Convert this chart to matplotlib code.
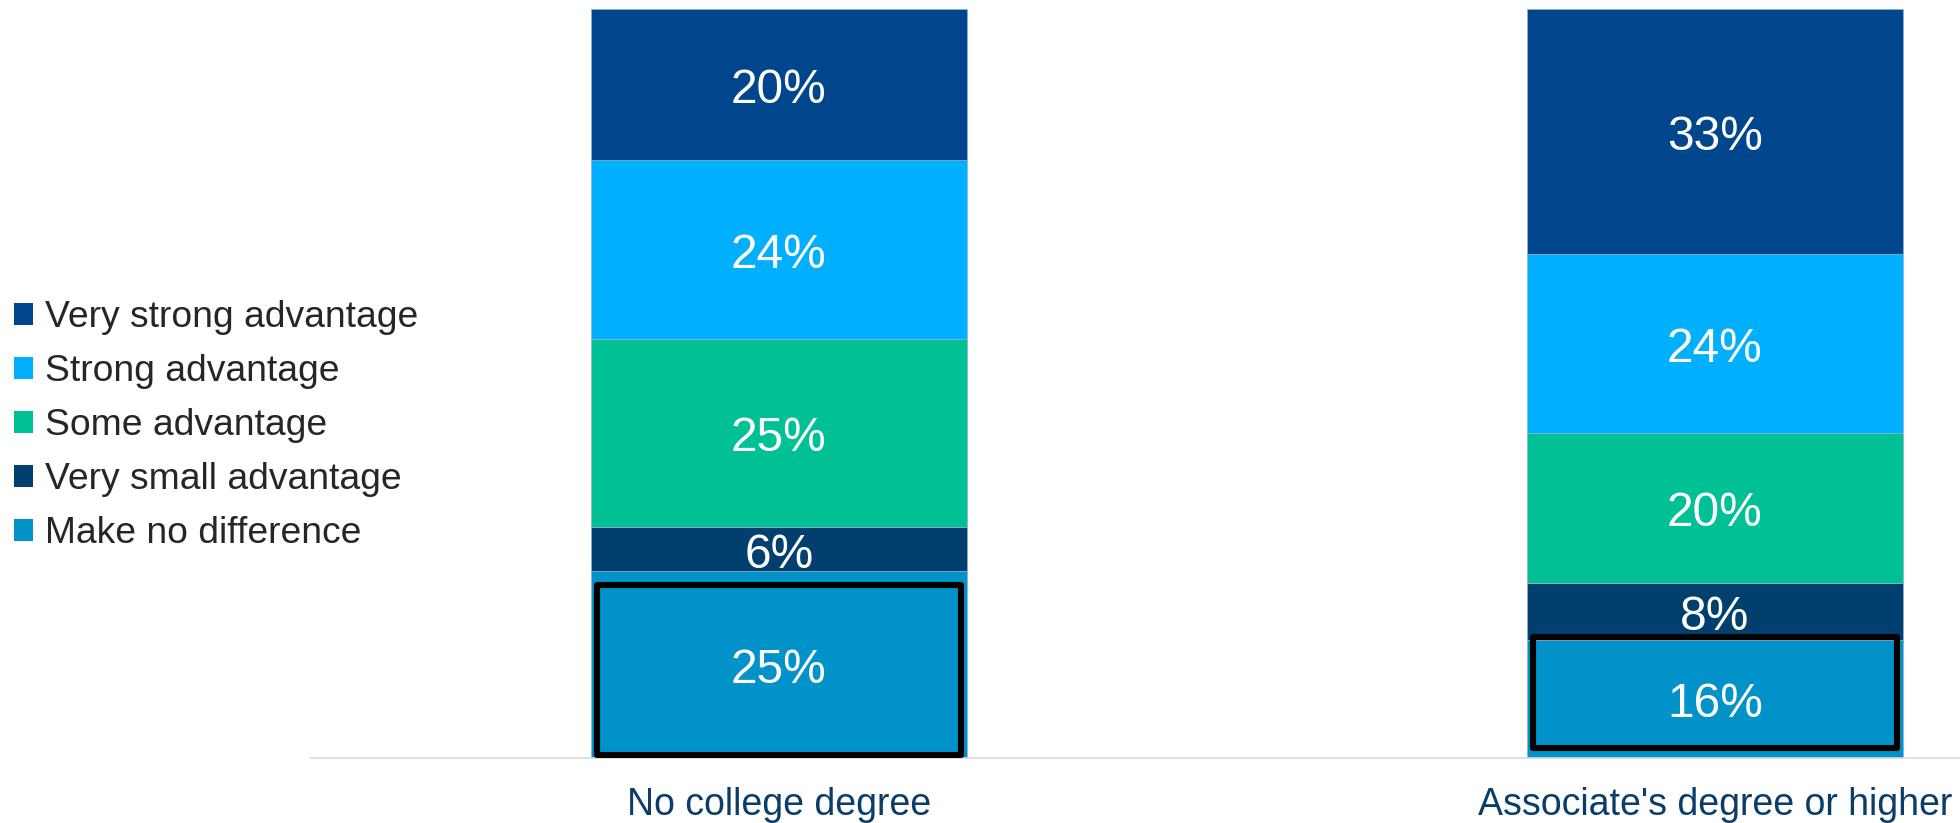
import matplotlib
matplotlib.use("Agg")
import matplotlib.pyplot as plt
from matplotlib.patches import Rectangle, Patch

plt.rcParams['font.family'] = ['Liberation Sans', 'DejaVu Sans']

categories = ["No college degree", "Associate's degree or higher"]
series_names = ["Make no difference", "Very small advantage", "Some advantage",
                "Strong advantage", "Very strong advantage"]
make_no_difference = [24.9, 15.75]
very_small_advantage = [6.0, 7.65]
some_advantage = [25.0, 19.95]
strong_advantage = [24.0, 23.9]
very_strong_advantage = [20.1, 32.75]
series_values = [make_no_difference, very_small_advantage, some_advantage,
                 strong_advantage, very_strong_advantage]
colors = ["#0092C8", "#003F6E", "#00C096", "#00B0FF", "#00468C"]

fig = plt.figure(figsize=(19.6, 8.23), dpi=100)
ax = fig.add_axes([311/1960, 65/823, 1 - 311/1960, 749/823])

x = list(range(len(categories)))
width = 0.4017
bottoms = [0.0] * len(categories)
for name, vals, col in zip(series_names, series_values, colors):
    ax.bar(x, vals, width, bottom=bottoms, color=col, label=name,
           edgecolor="#8fb3d1", linewidth=0.5)
    for xi, b, v in zip(x, bottoms, vals):
        ax.annotate(f"{v:.0f}%", (xi, b + v / 2), xytext=(0, -4.3),
                    textcoords="offset points", ha="center", va="center",
                    color="white", fontsize=34.5)
    bottoms = [b + v for b, v in zip(bottoms, vals)]

# highlight boxes around the bottom segment
box_top_adjust = [-1.8, 0.4]
box_bottom = [0.4, 1.3]
half = width / 2 - 0.006
for xi, v, adj, bb in zip(x, make_no_difference, box_top_adjust, box_bottom):
    ax.add_patch(Rectangle((xi - half, bb), 2 * half, v + adj - bb,
                           fill=False, edgecolor="black", linewidth=4.4,
                           joinstyle="round", zorder=5))

ax.set_xlim(-0.5, 1.2618)
ax.set_ylim(0, 100)
for s in ["top", "right", "left"]:
    ax.spines[s].set_visible(False)
ax.spines["bottom"].set_color("#d9d9d9")
ax.spines["bottom"].set_linewidth(1.2)
ax.set_yticks([])
ax.set_xticks(x)
ax.set_xticklabels(categories, fontsize=27, color="#0B3D6B")
ax.tick_params(axis="x", length=0, pad=21)

handles = [Patch(facecolor=c, edgecolor="none") for c in colors][::-1]
labels = series_names[::-1]
fig.legend(handles, labels, loc="center left",
           bbox_to_anchor=(14/1960, 1 - 425.5/823), frameon=False,
           fontsize=26.8, handlelength=0.52, handleheight=0.52,
           handletextpad=0.3, labelspacing=0.51, borderpad=0,
           borderaxespad=0, labelcolor="#262626")

fig.savefig("out.png", dpi=100)
